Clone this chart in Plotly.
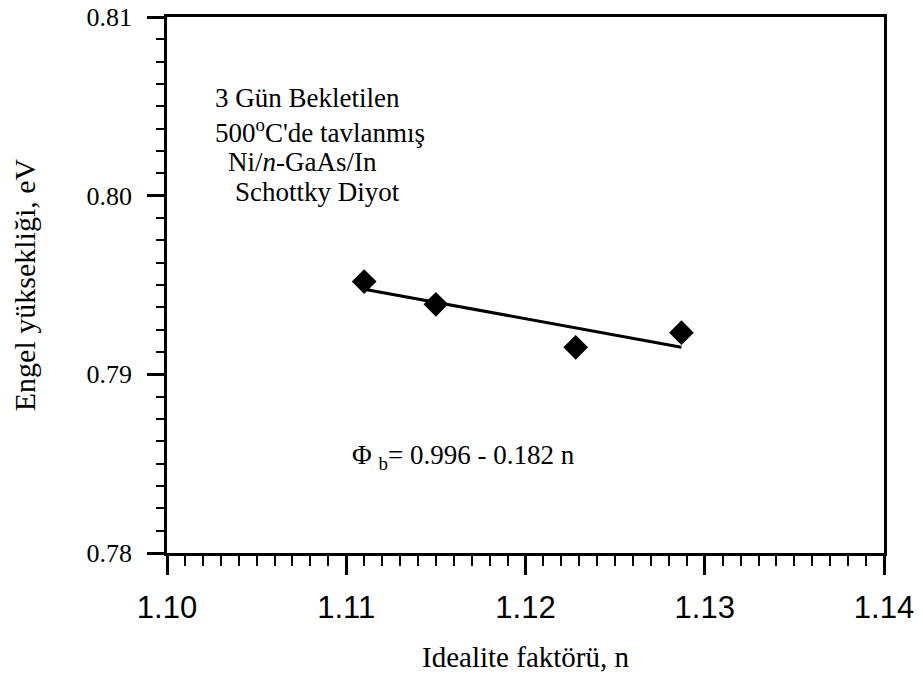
import plotly.graph_objects as go

# Data
ideality_n = [1.1110, 1.1150, 1.1228, 1.1287]
barrier_eV = [0.79519, 0.79392, 0.79151, 0.79233]
fit_n = [1.1110, 1.1287]
fit_eV = [0.79476, 0.79152]

x_tick_vals = [1.10, 1.11, 1.12, 1.13, 1.14]
x_tick_text = ["1.10", "1.11", "1.12", "1.13", "1.14"]
y_tick_vals = [0.78, 0.79, 0.80, 0.81]
y_tick_text = ["0.78", "0.79", "0.80", "0.81"]

info_lines = ["3 Gün Bekletilen", "500<sup>o</sup>C'de tavlanmış",
              "Ni/<i>n</i>-GaAs/In", "Schottky Diyot"]
equation = "Φ <sub>b</sub>= 0.996 - 0.182 n"

SERIF = "Liberation Serif, Times New Roman, serif"
SANS = "Liberation Sans, Arial, sans-serif"

fig = go.Figure()
fig.add_trace(go.Scatter(x=fit_n, y=fit_eV, mode="lines",
                         line=dict(color="black", width=3), showlegend=False))
fig.add_trace(go.Scatter(x=ideality_n, y=barrier_eV, mode="markers",
                         marker=dict(symbol="diamond", size=19, color="black"),
                         showlegend=False))

W, H = 923, 675
L, R, T, B = 167, 39, 17, 122
pw, ph = W - L - R, H - T - B

def px(xp):
    return (xp - L) / pw

def py(yp):
    return (H - B - yp) / ph

line_pos = [(213, 98), (213, 131), (226, 162), (233, 192)]
annotations = []
for txt, (xp, yp) in zip(info_lines, line_pos):
    annotations.append(dict(text=txt, x=px(xp), y=py(yp), xref="paper", yref="paper",
                            xanchor="left", yanchor="middle", showarrow=False,
                            font=dict(family=SERIF, size=27, color="black")))
annotations.append(dict(text=equation, x=px(350), y=py(457), xref="paper", yref="paper",
                        xanchor="left", yanchor="middle", showarrow=False,
                        font=dict(family=SERIF, size=27, color="black")))

fig.update_layout(
    template="none",
    width=W, height=H,
    margin=dict(l=L, r=R, t=T, b=B, autoexpand=False),
    paper_bgcolor="white", plot_bgcolor="white",
    annotations=annotations,
    xaxis=dict(
        automargin=False,
        range=[1.10, 1.14], tickvals=x_tick_vals, ticktext=x_tick_text,
        ticks="outside", ticklen=19, tickwidth=2.5, tickcolor="black",
        minor=dict(dtick=0.001, ticks="outside", ticklen=10, tickwidth=2, tickcolor="black",
                   showgrid=False),
        showline=True, linewidth=2.5, linecolor="black", mirror=True,
        showgrid=False, zeroline=False,
        tickfont=dict(family=SANS, size=31, color="black"),
        ticklabelstandoff=6,
        title=dict(text="Idealite faktörü, n", font=dict(family=SERIF, size=29, color="black"),
                   standoff=23),
    ),
    yaxis=dict(
        automargin=False,
        range=[0.78, 0.81], tickvals=y_tick_vals, ticktext=y_tick_text,
        ticks="outside", ticklen=17, tickwidth=2.5, tickcolor="black",
        minor=dict(dtick=0.00125, ticks="outside", ticklen=8, tickwidth=2, tickcolor="black",
                   showgrid=False),
        showline=True, linewidth=2.5, linecolor="black", mirror=True,
        showgrid=False, zeroline=False,
        tickfont=dict(family=SERIF, size=26, color="black"),
        ticklabelstandoff=10,
        title=dict(text="Engel yüksekliği, eV", font=dict(family=SERIF, size=30, color="black"),
                   standoff=43),
    ),
)

fig.write_html("out.html", config={"displayModeBar": False},
               post_script="document.body.style.margin='0';document.body.style.padding='0';")
